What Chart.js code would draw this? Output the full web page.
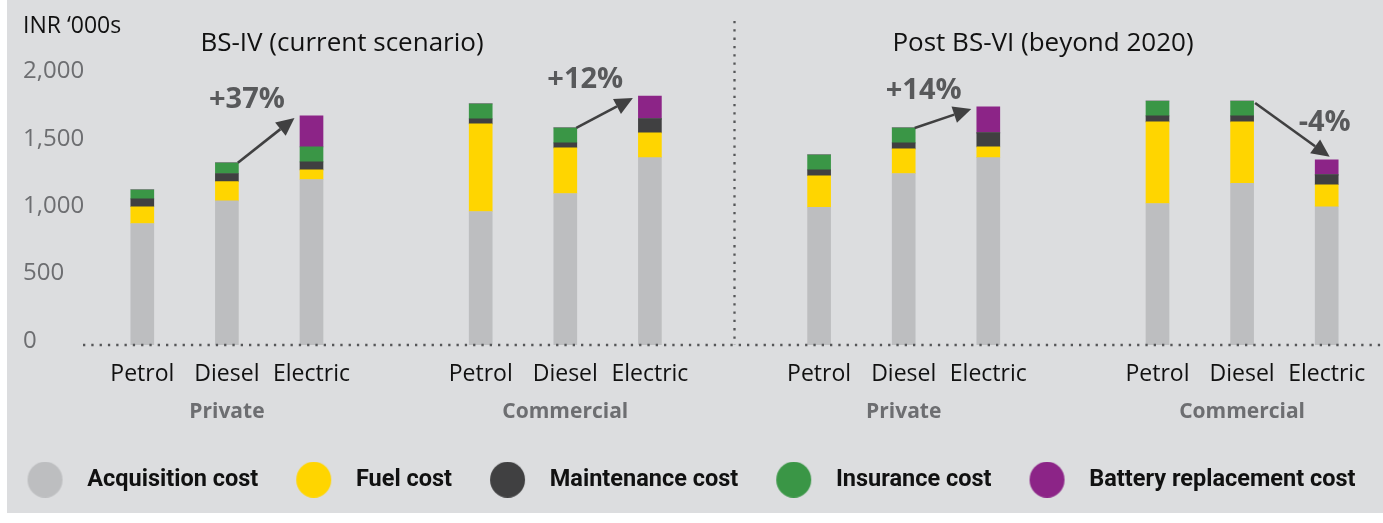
<!DOCTYPE html>
<html>
<head>
<meta charset="utf-8">
<script src="https://cdn.jsdelivr.net/npm/chart.js@4.4.1/dist/chart.umd.min.js"></script>
<style>
  html, body { margin: 0; padding: 0; background: #ffffff; }
  #wrap { width: 1383px; height: 523px; position: relative; }
</style>
</head>
<body>
<div id="wrap"><canvas id="c"></canvas></div>
<script>
// ---- Data (INR '000s) ----
const categories = ['Petrol','Diesel','Electric','','Petrol','Diesel','Electric','','Petrol','Diesel','Electric','','Petrol','Diesel','Electric'];
const groupLabels = ['','Private','','','','Commercial','','','','Private','','','','Commercial',''];
const scenarioTitles = ['BS-IV (current scenario)', 'Post BS-VI (beyond 2020)'];
const unitLabel = 'INR \u2018000s';

const acquisitionCost = [902, 1070, 1228, null, 991, 1124, 1391, null, 1021, 1273, 1391, null, 1050, 1199, 1026];
const fuelCost        = [124,  143,   72, null, 650,  339,  183, null,  235,  183,   79, null,  606,  457,  163];
const maintenanceCost = [ 59,   60,   59, null,  37,   37,  104, null,   44,   44,  104, null,   44,   44,   74];
const insuranceCost   = [ 67,   79,  111, null, 111,  111,    0, null,  111,  111,    0, null,  111,  111,    0];
const batteryCost     = [  0,    0,  230, null,   0,    0,  170, null,    0,    0,  193, null,    0,    0,  111];

const changeFrom   = [1, 5, 9, 13];
const changeTo     = [2, 6, 10, 14];
const changeLabels = ['+37%', '+12%', '+14%', '-4%'];

const yTicks = [0, 500, 1000, 1500, 2000];

const FONT = "'Open Sans', Roboto, 'DejaVu Sans', sans-serif";
const LEGEND_FONT = "Roboto, 'Open Sans', sans-serif";
const COLORS = ['#BDBEC0', '#FFD500', '#404041', '#3A9646', '#8C2487'];
const seriesNames = ['Acquisition cost', 'Fuel cost', 'Maintenance cost', 'Insurance cost', 'Battery replacement cost'];
const seriesData = [acquisitionCost, fuelCost, maintenanceCost, insuranceCost, batteryCost];

// legend circle images (circle with a left margin inside the image)
const LEG_M = 24, LEG_W = 72;
function circleImage(color) {
  const h = 36;
  const cv = document.createElement('canvas');
  cv.width = LEG_W; cv.height = h;
  const g = cv.getContext('2d');
  g.fillStyle = color;
  g.beginPath();
  g.ellipse(LEG_M + 17.5, h / 2, 17.5, 18, 0, 0, Math.PI * 2);
  g.fill();
  return cv;
}
const legendImgs = COLORS.map(circleImage);

function totalAt(i) {
  return seriesData.reduce((s, arr) => s + (arr[i] || 0), 0);
}

function drawArrow(ctx, x1, y1, x2, y2) {
  const ang = Math.atan2(y2 - y1, x2 - x1);
  const hl = 18, hw = 8.5;
  const bx = x2 - hl * Math.cos(ang), by = y2 - hl * Math.sin(ang);
  ctx.beginPath();
  ctx.moveTo(x1, y1);
  ctx.lineTo(bx, by);
  ctx.stroke();
  ctx.beginPath();
  ctx.moveTo(x2, y2);
  ctx.lineTo(bx + hw * Math.sin(ang), by - hw * Math.cos(ang));
  ctx.lineTo(bx - hw * Math.sin(ang), by + hw * Math.cos(ang));
  ctx.closePath();
  ctx.fill();
}

const decor = {
  id: 'decor',
  beforeDraw(chart) {
    const ctx = chart.ctx;
    ctx.save();
    ctx.fillStyle = '#ffffff';
    ctx.fillRect(0, 0, chart.width, chart.height);
    ctx.fillStyle = '#DCDDDF';
    ctx.fillRect(7, 0, chart.width - 7, 513);
    ctx.restore();
  },
  afterDatasetsDraw(chart) {
    const ctx = chart.ctx;
    const xs = chart.scales.x, ys = chart.scales.y;
    const ca = chart.chartArea;
    const y0 = ys.getPixelForValue(0);
    ctx.save();
    // dotted baseline
    ctx.strokeStyle = '#555658';
    ctx.lineWidth = 2.3;
    ctx.setLineDash([2.3, 6]);
    ctx.beginPath();
    ctx.moveTo(ca.left - 17, y0);
    ctx.lineTo(chart.width - 2, y0);
    ctx.stroke();
    // dotted divider
    const xd = xs.getPixelForValue(7);
    ctx.beginPath();
    ctx.moveTo(xd, 21);
    ctx.lineTo(xd, y0);
    ctx.stroke();
    ctx.setLineDash([]);

    // titles
    ctx.fillStyle = '#111111';
    ctx.textBaseline = 'middle';
    ctx.font = '23px ' + FONT;
    ctx.textAlign = 'left';
    ctx.fillText(unitLabel, 23, 26);
    ctx.font = '26px ' + FONT;
    ctx.textAlign = 'center';
    ctx.fillText(scenarioTitles[0], 342, 44);
    ctx.fillText(scenarioTitles[1], 1043, 44);

    // change arrows and labels
    ctx.lineWidth = 2.6;
    for (let k = 0; k < changeLabels.length; k++) {
      const xf = xs.getPixelForValue(changeFrom[k]);
      const xt = xs.getPixelForValue(changeTo[k]);
      const tf = ys.getPixelForValue(totalAt(changeFrom[k]));
      const tt = ys.getPixelForValue(totalAt(changeTo[k]));
      const up = changeLabels[k][0] === '+';
      let tx, ty;
      ctx.strokeStyle = '#404041';
      ctx.fillStyle = '#404041';
      if (up) {
        drawArrow(ctx, xf + 11, tf, xt - 17, tt + 2);
        tx = xf + 20; ty = tt - 16;
      } else {
        drawArrow(ctx, xf + 13, tf + 2, xt + 3, tt - 3);
        tx = xt - 2; ty = tt - 37;
      }
      ctx.fillStyle = '#58595B';
      ctx.font = 'bold 29px ' + FONT;
      ctx.textAlign = 'center';
      ctx.fillText(changeLabels[k], tx, ty);
    }
    ctx.restore();
  }
};

const datasets = seriesNames.map((name, i) => ({
  label: name,
  data: seriesData[i],
  backgroundColor: COLORS[i],
  borderWidth: 0,
  barThickness: 23,
  xAxisID: 'x',
  yAxisID: 'y'
}));

new Chart(document.getElementById('c'), {
  type: 'bar',
  data: { labels: categories, datasets },
  options: {
    responsive: true,
    maintainAspectRatio: false,
    animation: false,
    events: [],
    layout: { padding: { left: -12, right: 12, top: 75.5, bottom: 21.5 } },
    scales: {
      x: {
        stacked: true,
        position: 'bottom',
        weight: 0,
        offset: true,
        grid: { display: false, drawTicks: false },
        border: { display: false },
        ticks: { autoSkip: false, maxRotation: 0, minRotation: 0, color: '#111111', font: { family: FONT, size: 23 }, padding: 16 },
        afterFit(s) { s.height = 50; }
      },
      x2: {
        type: 'category',
        labels: groupLabels,
        position: 'bottom',
        weight: 1,
        offset: true,
        grid: { display: false, drawTicks: false },
        border: { display: false },
        ticks: { autoSkip: false, maxRotation: 0, minRotation: 0, color: '#6D6E71', font: { family: FONT, size: 21, weight: 'bold' }, padding: 4 },
        afterFit(s) { s.height = 59; }
      },
      y: {
        stacked: true,
        position: 'left',
        weight: 0,
        min: 0,
        max: 2000,
        afterBuildTicks(s) { s.ticks = yTicks.map(v => ({ value: v })); },
        grid: { display: false, drawTicks: false },
        border: { display: false },
        ticks: { crossAlign: 'far', color: '#6D6E71', font: { family: FONT, size: 24 }, padding: 0, labelOffset: -4 },
        afterFit(s) { s.width = 77; }
      },
      padL: {
        type: 'linear', position: 'left', weight: 10, display: true,
        grid: { display: false, drawTicks: false }, border: { display: false },
        ticks: { display: false },
        afterFit(s) { s.width = 35; }
      },
      padR: {
        type: 'linear', position: 'right', weight: 10, display: true,
        grid: { display: false, drawTicks: false }, border: { display: false },
        ticks: { display: false },
        afterFit(s) { s.width = 2; }
      }
    },
    plugins: {
      title: { display: false },
      tooltip: { enabled: false },
      legend: {
        position: 'bottom',
        align: 'center',
        labels: {
          usePointStyle: true,
          pointStyleWidth: LEG_W,
          boxHeight: 23.5,
          padding: 14,
          color: '#111111',
          font: { family: LEGEND_FONT, size: 23.5, weight: 'bold' },
          generateLabels(chart) {
            const items = Chart.defaults.plugins.legend.labels.generateLabels(chart);
            items.forEach((it, i) => { it.pointStyle = legendImgs[i]; it.lineWidth = 0; });
            return items;
          }
        }
      }
    }
  },
  plugins: [decor]
});
</script>
</body>
</html>
